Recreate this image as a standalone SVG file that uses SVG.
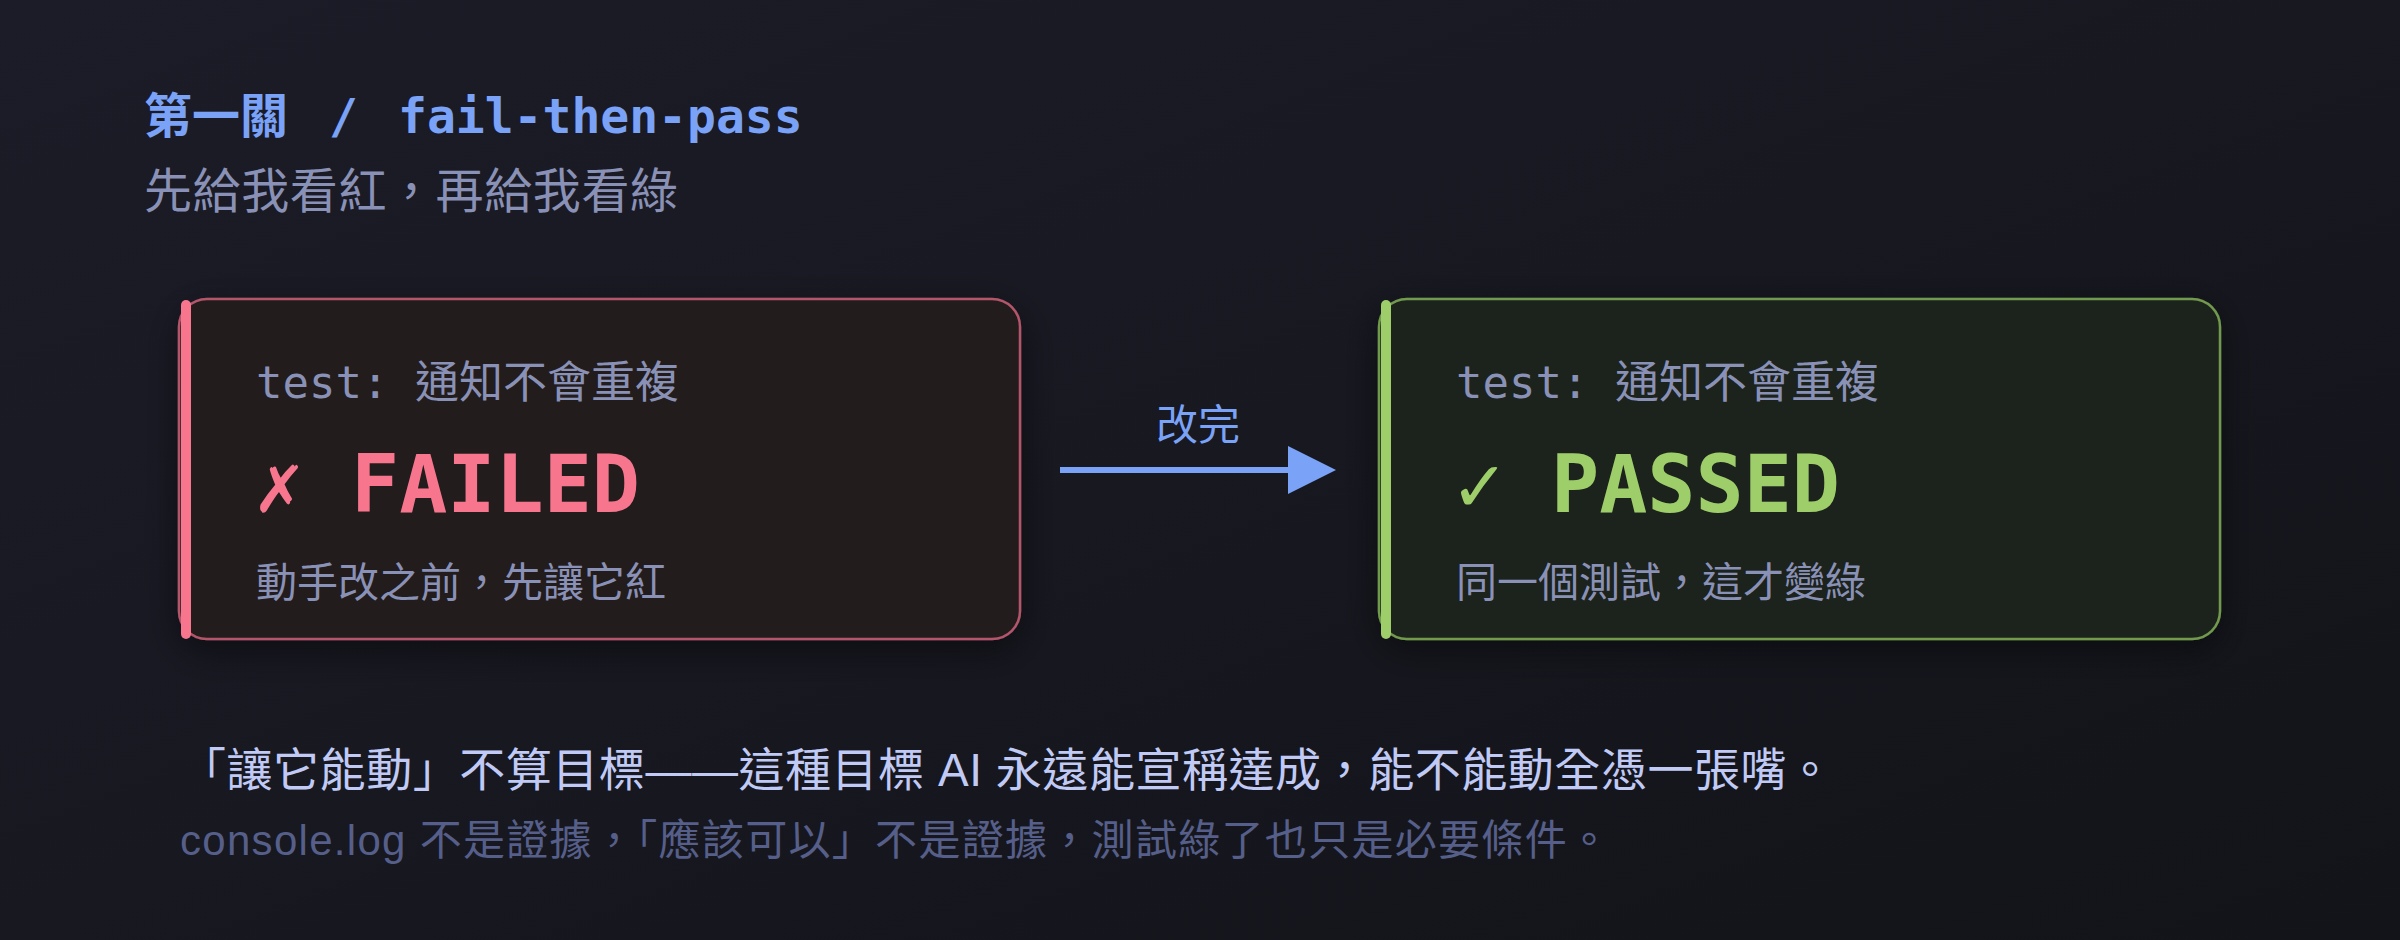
<svg xmlns="http://www.w3.org/2000/svg" width="2400" height="940" viewBox="0 0 2400 940">
<defs>
<linearGradient id="bg" x1="0" y1="0" x2="1" y2="1">
<stop offset="0" stop-color="#1b1c27"/>
<stop offset="1" stop-color="#131419"/>
</linearGradient>
<filter id="shadow" x="-10%" y="-20%" width="120%" height="150%">
<feDropShadow dx="0" dy="10" stdDeviation="18" flood-color="#000" flood-opacity="0.45"/>
</filter>
<style>
.mono{font-family:"DejaVu Sans Mono","Noto Sans CJK TC",monospace}
.cjk{font-family:"Noto Sans CJK TC","Noto Sans CJK SC",sans-serif}
.sans{font-family:"Liberation Sans","Noto Sans CJK TC",sans-serif}
.label{font-size:44px;fill:#8a91b6}
.note{font-size:41px;fill:#8a91b6}
.big{font-size:80px;font-weight:bold}
</style>
</defs>
<rect width="2400" height="940" fill="url(#bg)"/>
<g id="title">
<text class="cjk" x="144" y="133" font-size="48" font-weight="bold" fill="#7aa2f7">第一關</text>
<text class="mono" x="329" y="133" font-size="48" font-weight="bold" fill="#7aa2f7">/</text>
<text class="mono" x="398" y="133" font-size="48" font-weight="bold" fill="#7aa2f7">fail-then-pass</text>
<text class="cjk" x="144" y="208" font-size="48" fill="#8a91b6" textLength="534" lengthAdjust="spacing">先給我看紅，再給我看綠</text>
</g>
<g id="card-failed">
<rect x="179" y="299" width="841" height="340" rx="28" fill="#231c1e" stroke="#b3566b" stroke-width="2.5" filter="url(#shadow)"/>
<rect x="181" y="300" width="10" height="339" rx="5" fill="#f7768e"/>
<text class="mono label" x="256" y="398">test: 通知不會重複</text>
<text class="mono big" x="255" y="512" fill="#f7768e">✗</text>
<text class="mono big" x="351" y="512" fill="#f7768e">FAILED</text>
<text class="cjk note" x="256" y="597">動手改之前，先讓它紅</text>
</g>
<g id="card-passed">
<rect x="1379" y="299" width="841" height="340" rx="28" fill="#1e221e" stroke="#719a4d" stroke-width="2.5" filter="url(#shadow)"/>
<rect x="1381" y="300" width="10" height="339" rx="5" fill="#9ece6a"/>
<text class="mono label" x="1456" y="398">test: 通知不會重複</text>
<text class="mono big" x="1455" y="512" fill="#9ece6a">✓</text>
<text class="mono big" x="1551" y="512" fill="#9ece6a">PASSED</text>
<text class="cjk note" x="1456" y="597">同一個測試，這才變綠</text>
</g>
<g id="connectors">
<line x1="1060" y1="470" x2="1300" y2="470" stroke="#7aa2f7" stroke-width="6"/>
<polygon points="1288,446 1336,470 1288,494" fill="#7aa2f7"/>
<text class="cjk" x="1198" y="440" font-size="42" fill="#7aa2f7" text-anchor="middle">改完</text>
</g>
<g id="footer">
<text class="sans" x="180" y="786" font-size="46" fill="#c0caf5" textLength="1653" lengthAdjust="spacing">「讓它能動」不算目標——這種目標 AI 永遠能宣稱達成，能不能動全憑一張嘴。</text>
<text class="sans" x="180" y="855" font-size="42" fill="#565f89" textLength="1430" lengthAdjust="spacing">console.log 不是證據，「應該可以」不是證據，測試綠了也只是必要條件。</text>
</g>
</svg>
